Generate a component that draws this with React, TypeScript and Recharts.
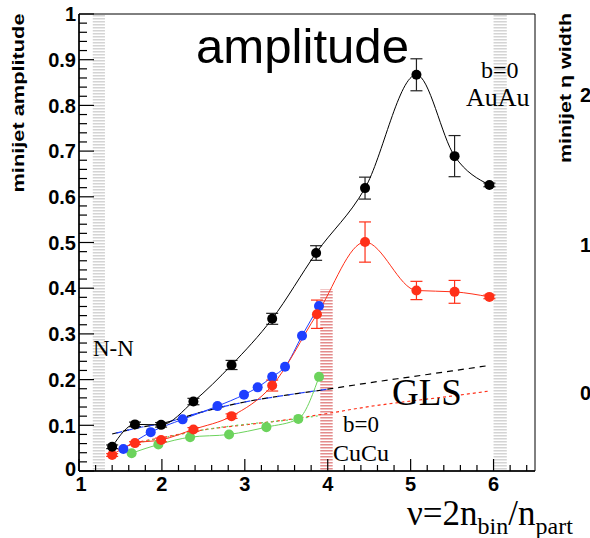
import { LineChart, Line, XAxis, YAxis, ReferenceArea, ErrorBar } from "recharts";

// AuAu 200 GeV (black)
const auAu200Nu = [1.4, 1.675, 1.99, 2.38, 2.84, 3.33, 3.86, 4.45, 5.07, 5.53, 5.95];
const auAu200Amp = [0.053, 0.102, 0.101, 0.152, 0.232, 0.333, 0.477, 0.619, 0.867, 0.689, 0.626];
const auAu200Err = [0.004, 0.005, 0.005, 0.007, 0.01, 0.012, 0.016, 0.024, 0.035, 0.045, 0.004];

// AuAu 62 GeV (red)
const auAu62Nu = [1.4, 1.675, 1.99, 2.38, 2.84, 3.33, 3.87, 4.45, 5.07, 5.53, 5.95];
const auAu62Amp = [0.035, 0.061, 0.068, 0.091, 0.12, 0.187, 0.343, 0.501, 0.395, 0.392, 0.381];
const auAu62Err = [0.003, 0.003, 0.004, 0.004, 0.005, 0.012, 0.031, 0.044, 0.02, 0.025, 0.004];

// CuCu 200 GeV (blue)
const cuCu200Nu = [1.535, 1.865, 2.25, 2.67, 2.99, 3.155, 3.33, 3.485, 3.69, 3.895];
const cuCu200Amp = [0.048, 0.085, 0.113, 0.142, 0.167, 0.183, 0.206, 0.228, 0.296, 0.361];

// CuCu 62 GeV (green)
const cuCu62Nu = [1.635, 1.957, 2.34, 2.81, 3.26, 3.645, 3.895];
const cuCu62Amp = [0.039, 0.058, 0.074, 0.08, 0.096, 0.114, 0.206];

// GLS reference curves
const glsAuNu = [1.4, 1.7, 2.0, 2.5, 3.0, 3.5, 4.0, 4.5, 5.0, 5.5, 5.95];
const gls200Amp = [0.081, 0.094, 0.104, 0.13, 0.151, 0.166, 0.179, 0.193, 0.206, 0.219, 0.231];
const gls62Amp = [0.042, 0.062, 0.073, 0.09, 0.101, 0.112, 0.126, 0.141, 0.153, 0.164, 0.175];
const glsCuNu = [1.45, 1.7, 2.0, 2.5, 3.0, 3.5, 4.0];
const glsCu200Amp = [0.083, 0.094, 0.104, 0.13, 0.151, 0.166, 0.179];
const glsCu62Nu = [1.65, 2.0, 2.5, 3.0, 3.5, 3.9];
const glsCu62Amp = [0.06, 0.072, 0.09, 0.102, 0.111, 0.121];

const xMajorTicks = [1, 2, 3, 4, 5, 6];
const xTickLabels = ["1", "2", "3", "4", "5", "6"];
const yMajorTicks = [0, 0.1, 0.2, 0.3, 0.4, 0.5, 0.6, 0.7, 0.8, 0.9, 1];
const yTickLabels = ["0", "0.1", "0.2", "0.3", "0.4", "0.5", "0.6", "0.7", "0.8", "0.9", "1"];

// minor tick positions (every 0.2 on x, every 0.02 on y)
const xTicks: number[] = [];
for (let i = 0; i <= 27; i++) xTicks.push(+(1 + i * 0.2).toFixed(2));
const yTicks: number[] = [];
for (let i = 0; i <= 50; i++) yTicks.push(+(i * 0.02).toFixed(2));

const rows = (nu: number[], amp: number[], err?: number[]) =>
  nu.map((x, i) => ({ nu: x, amp: amp[i], err: err ? err[i] : 0 }));

const auAu200 = rows(auAu200Nu, auAu200Amp, auAu200Err);
const auAu62 = rows(auAu62Nu, auAu62Amp, auAu62Err);
const cuCu200 = rows(cuCu200Nu, cuCu200Amp);
const cuCu62 = rows(cuCu62Nu, cuCu62Amp);
const gls200 = rows(glsAuNu, gls200Amp);
const gls62 = rows(glsAuNu, gls62Amp);
const glsCu200 = rows(glsCuNu, glsCu200Amp);
const glsCu62 = rows(glsCu62Nu, glsCu62Amp);

const RED = "#ff3019";
const BLUE = "#1f3fff";
const GREEN = "#6cd35c";
const SANS = "'Liberation Sans', Arial, sans-serif";
const SERIF = "'Liberation Serif', 'Times New Roman', serif";

const YTick = (props: any) => {
  const { x, y, payload } = props;
  const idx = yMajorTicks.findIndex((t) => Math.abs(t - payload.value) < 1e-6);
  const major = idx >= 0;
  return (
    <g>
      <line x1={x} x2={x + (major ? 15 : 8)} y1={y} y2={y} stroke="#000" strokeWidth={1.2} />
      {major && (
        <text x={x - 3} y={idx === 0 ? y - 2 : y} dy="0.36em" textAnchor="end" fontFamily={SANS} fontWeight="bold" fontSize={20} fill="#000">
          {yTickLabels[idx]}
        </text>
      )}
    </g>
  );
};

const XTick = (props: any) => {
  const { x, y, payload } = props;
  const idx = xMajorTicks.findIndex((t) => Math.abs(t - payload.value) < 1e-6);
  const major = idx >= 0;
  return (
    <g>
      <line x1={x} x2={x} y1={y} y2={y - (major ? 12 : 6)} stroke="#000" strokeWidth={1.2} />
      {major && (
        <text x={idx === 0 ? x + 2 : x} y={y + 20} textAnchor="middle" fontFamily={SANS} fontWeight="bold" fontSize={20} fill="#000">
          {xTickLabels[idx]}
        </text>
      )}
    </g>
  );
};

const dot = (c: string) => ({ r: 5, fill: c, stroke: c, strokeWidth: 0 });

export default function App() {
  return (
    <div style={{ position: "absolute", left: 0, top: 0, width: 590, height: 538, background: "#fff" }}>
      <LineChart width={590} height={538} margin={{ top: 14, right: 55, left: 19, bottom: 27 }}>
        <defs>
          <pattern id="grayHatch" width="4" height="3" patternUnits="userSpaceOnUse">
            <rect width="4" height="1.5" fill="#d4d4d4" />
          </pattern>
          <pattern id="redHatch" width="4" height="3" patternUnits="userSpaceOnUse">
            <rect width="4" height="1.5" fill="#e38c8c" />
          </pattern>
        </defs>
        <XAxis
          dataKey="nu"
          type="number"
          domain={[1, 6.5]}
          ticks={xTicks}
          interval={0}
          allowDataOverflow
          height={40}
          tickSize={0}
          tickMargin={0}
          tickLine={false}
          tick={<XTick />}
          axisLine={{ stroke: "#000", strokeWidth: 1.5 }}
        />
        <YAxis
          type="number"
          domain={[0, 1]}
          ticks={yTicks}
          interval={0}
          allowDataOverflow
          width={60}
          tickSize={0}
          tickMargin={0}
          tickLine={false}
          tick={<YTick />}
          axisLine={{ stroke: "#000", strokeWidth: 1.5 }}
        />
        <ReferenceArea x1={1.166} x2={1.313} y1={0} y2={1} fill="url(#grayHatch)" fillOpacity={1} stroke="none" />
        <ReferenceArea x1={6.0} x2={6.16} y1={0} y2={1} fill="url(#grayHatch)" fillOpacity={1} stroke="none" />
        <ReferenceArea x1={3.91} x2={4.06} y1={0} y2={0.398} fill="url(#redHatch)" fillOpacity={1} stroke="none" />
        <ReferenceArea x1={1} x2={6.5} y1={0} y2={1} fill="none" stroke="#000" strokeWidth={1} />

        <Line data={gls200} dataKey="amp" type="monotone" stroke="#000" strokeWidth={1.2} strokeDasharray="6 5" dot={false} activeDot={false} isAnimationActive={false} />
        <Line data={glsCu200} dataKey="amp" type="monotone" stroke={BLUE} strokeWidth={1.2} strokeDasharray="6 5" dot={false} activeDot={false} isAnimationActive={false} />
        <Line data={gls62} dataKey="amp" type="monotone" stroke={RED} strokeWidth={1.2} strokeDasharray="3 3" dot={false} activeDot={false} isAnimationActive={false} />
        <Line data={glsCu62} dataKey="amp" type="monotone" stroke={GREEN} strokeWidth={1.2} strokeDasharray="2 3" dot={false} activeDot={false} isAnimationActive={false} />

        <Line data={cuCu62} dataKey="amp" type="monotone" stroke={GREEN} strokeWidth={1} dot={dot(GREEN)} activeDot={false} isAnimationActive={false} />
        <Line data={cuCu200} dataKey="amp" type="monotone" stroke={BLUE} strokeWidth={1} dot={dot(BLUE)} activeDot={false} isAnimationActive={false} />
        <Line data={auAu62} dataKey="amp" type="monotone" stroke={RED} strokeWidth={1} dot={dot(RED)} activeDot={false} isAnimationActive={false}>
          <ErrorBar dataKey="err" width={6} stroke={RED} strokeWidth={1.2} direction="y" />
        </Line>
        <Line data={auAu200} dataKey="amp" type="monotone" stroke="#000" strokeWidth={1} dot={dot("#000")} activeDot={false} isAnimationActive={false}>
          <ErrorBar dataKey="err" width={6} stroke="#222" strokeWidth={1.2} direction="y" />
        </Line>
      </LineChart>

      <svg width={590} height={538} style={{ position: "absolute", left: 0, top: 0, pointerEvents: "none" }}>
        <text x={196} y={63} fontFamily={SANS} fontSize={49} textLength={213} lengthAdjust="spacingAndGlyphs" fill="#000">amplitude</text>
        <text x={24} y={103} transform="rotate(-90 24 103)" textAnchor="middle" fontFamily={SANS} fontWeight="bold" fontSize={17} textLength={179} lengthAdjust="spacingAndGlyphs" fill="#000">
          minijet amplitude
        </text>
        <text x={481} y={78} fontFamily={SERIF} fontSize={24} fill="#000">b=0</text>
        <text x={466} y={106} fontFamily={SERIF} fontSize={26} fill="#000">AuAu</text>
        <text x={93} y={356} fontFamily={SERIF} fontSize={23} fill="#000">N-N</text>
        <text x={392} y={405} fontFamily={SERIF} fontSize={37} fill="#000">GLS</text>
        <text x={343} y={432} fontFamily={SERIF} fontSize={23} fill="#000">b=0</text>
        <text x={333} y={461} fontFamily={SERIF} fontSize={24} fill="#000">CuCu</text>
        <text x={407} y={525} fontFamily={SERIF} fontSize={35} fill="#000">
          <tspan>ν=2n</tspan>
          <tspan fontSize={24} dy={9}>bin</tspan>
          <tspan dy={-9}>/n</tspan>
          <tspan fontSize={24} dy={9}>part</tspan>
        </text>
        <text x={571} y={88} transform="rotate(-90 571 88)" textAnchor="middle" fontFamily={SANS} fontWeight="bold" fontSize={17} textLength={150} lengthAdjust="spacingAndGlyphs" fill="#000">
          minijet η width
        </text>
        <text x={580} y={95} dy="0.36em" fontFamily={SANS} fontWeight="bold" fontSize={20} fill="#000">2</text>
        <text x={580} y={245} dy="0.36em" fontFamily={SANS} fontWeight="bold" fontSize={20} fill="#000">1</text>
        <text x={580} y={393} dy="0.36em" fontFamily={SANS} fontWeight="bold" fontSize={20} fill="#000">0</text>
      </svg>
    </div>
  );
}
